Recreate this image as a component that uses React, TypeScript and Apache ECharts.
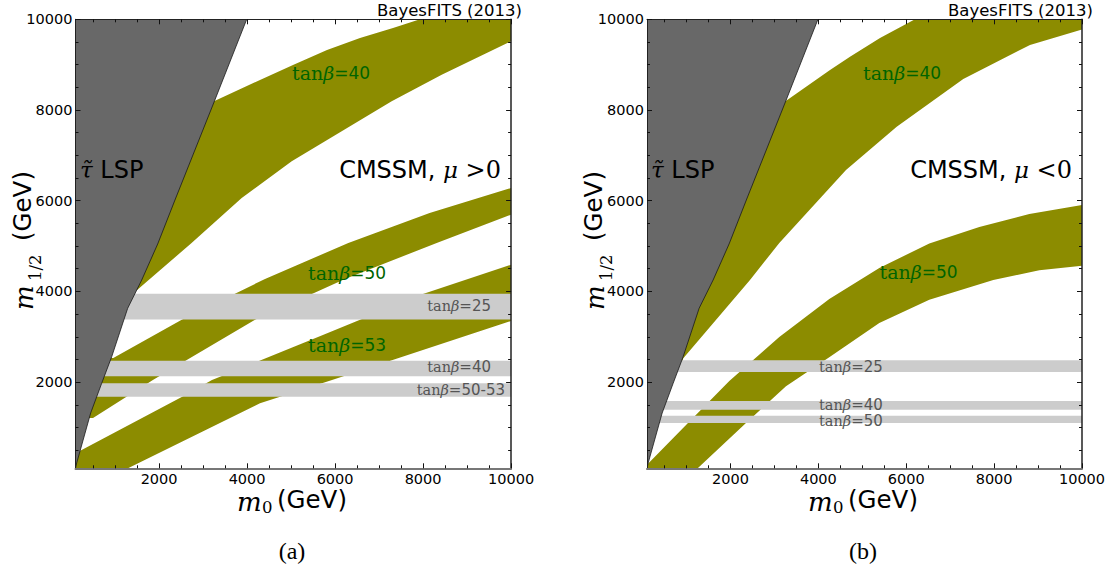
import React, { useEffect, useRef } from 'react';
import * as echarts from 'echarts';

// ---------- axes ----------
const X_MIN = 100;
const X_MAX = 10000;
const Y_MIN = 100;
const Y_MAX = 10000;
const majorTicks = [2000, 4000, 6000, 8000, 10000];
const minorTicks = [500, 1000, 1500, 2500, 3000, 3500, 4500, 5000, 5500, 6500, 7000, 7500, 8500, 9000, 9500];

// ---------- stau LSP boundary (m0, m1/2) ----------
const lspBoundary = [
  [100, 100], [127, 217], [445, 1319], [695, 1974], [923, 2561], [1286, 3628],
  [1605, 4252], [1968, 5046], [2361, 6016], [3259, 8199], [3991, 10000],
];

// ---------- panel (a): mu > 0 ----------
const a40Upper = [[3259, 8199], [4293, 8662], [5043, 8993], [5816, 9324], [6566, 9589], [7316, 9809], [7930, 10000]];
const a40Lower = [[1500, 4030], [2725, 5057], [3877, 6060], [5014, 6870], [6150, 7531], [7286, 8193], [8423, 8779], [10000, 9516]];
const a50Upper = [[959, 2532], [2514, 3377], [4407, 4274], [6300, 5068], [8148, 5729], [10000, 6281]];
const a50Lower = [[498, 1209], [1868, 2054], [4180, 3377], [6225, 4274], [8309, 5068], [10000, 5692]];
const a53Upper = [[100, 430], [2514, 1672], [3202, 2047], [5611, 2995], [7997, 3943], [10000, 4590]];
const a53Lower = [[1293, 100], [4293, 1533], [5930, 2047], [10000, 3348]];
const aStrips = [[3380, 3950], [2130, 2470], [1680, 1975]];
const aStripNames = ['25', '40', '50-53'];

// ---------- panel (b): mu < 0 ----------
const b40Upper = [[3259, 8199], [4265, 8883], [4720, 9176], [5403, 9588], [6199, 10000]];
const b40Lower = [[820, 2250], [926, 2526], [2444, 4252], [3111, 5068], [4629, 6678], [5783, 7633], [7298, 8684], [8816, 9434], [10000, 9776]];
const b50Upper = [[100, 179], [988, 1055], [1973, 2025], [3111, 2995], [4249, 3833], [5387, 4517], [6525, 5057], [7663, 5421], [8801, 5708], [10000, 5906]];
const b50Lower = [[1254, 100], [2353, 1099], [3263, 1908], [4265, 2561], [5387, 3304], [6525, 3818], [7981, 4252], [9028, 4466], [10000, 4567]];
const bStrips = [[2225, 2480], [1390, 1585], [1100, 1260]];
const bStripNames = ['25', '40', '50'];

const OLIVE = '#8c8c00';
const LSP_GRAY = '#686868';
const STRIP_GRAY = '#cccccc';
const GREEN = '#006400';
const LABEL_GRAY = '#555555';
const SANS = 'DejaVu Sans';
const SERIF = 'DejaVu Serif';

function bandPolygon(upper: number[][], lower: number[][]) {
  const pts: number[][] = [[X_MIN, upper[0][1]], ...upper];
  const lastU = upper[upper.length - 1];
  const lastL = lower[lower.length - 1];
  if (lastU[1] >= Y_MAX && lastL[0] >= X_MAX) pts.push([X_MAX, Y_MAX]);
  for (let i = lower.length - 1; i >= 0; i--) pts.push(lower[i]);
  pts.push([X_MIN, lower[0][1]]);
  return pts;
}

function polySeries(points: number[][], fill: string, axis: number, z: number) {
  return {
    type: 'custom', xAxisIndex: axis, yAxisIndex: axis, z, clip: true, silent: true,
    data: [[points[0][0], points[0][1]]],
    renderItem: (_p: any, api: any) => ({
      type: 'polygon',
      shape: { points: points.map((p) => api.coord(p)) },
      style: { fill, stroke: 'none' },
    }),
  };
}

function lineSeries(points: number[][], axis: number, z: number) {
  return {
    type: 'custom', xAxisIndex: axis, yAxisIndex: axis, z, clip: true, silent: true,
    data: [[points[0][0], points[0][1]]],
    renderItem: (_p: any, api: any) => ({
      type: 'polyline',
      shape: { points: points.map((p) => api.coord(p)) },
      style: { fill: 'none', stroke: '#1a1a1a', lineWidth: 0.8 },
    }),
  };
}

const majorTick = { show: true, inside: true, length: 5, customValues: majorTicks, lineStyle: { color: '#111', width: 1 } };
const minorTick = { show: true, inside: true, length: 3, customValues: minorTicks, lineStyle: { color: '#111', width: 1 } };
const tickLabel = {
  show: true, customValues: majorTicks, color: '#000', fontSize: 14.5, fontFamily: SANS,
  formatter: (v: number) => String(v),
};

function xAxes(gridIndex: number) {
  const base = { type: 'value', gridIndex, min: X_MIN, max: X_MAX, z: 10, silent: true, splitLine: { show: false } };
  return [
    { ...base, position: 'bottom', axisLine: { show: true, onZero: false, lineStyle: { color: '#777', width: 2 } }, axisTick: majorTick, axisLabel: { ...tickLabel, margin: 4, lineHeight: 13 } },
    { ...base, position: 'bottom', axisLine: { show: false, onZero: false }, axisTick: minorTick, axisLabel: { show: false } },
    { ...base, position: 'top', axisLine: { show: true, onZero: false, lineStyle: { color: '#222', width: 1 } }, axisTick: majorTick, axisLabel: { show: false } },
    { ...base, position: 'top', axisLine: { show: false, onZero: false }, axisTick: minorTick, axisLabel: { show: false } },
  ];
}

function yAxes(gridIndex: number) {
  const base = { type: 'value', gridIndex, min: Y_MIN, max: Y_MAX, z: 10, silent: true, splitLine: { show: false } };
  return [
    { ...base, position: 'left', axisLine: { show: true, onZero: false, lineStyle: { color: '#222', width: 1 } }, axisTick: majorTick, axisLabel: { ...tickLabel, margin: 3 } },
    { ...base, position: 'left', axisLine: { show: false, onZero: false }, axisTick: minorTick, axisLabel: { show: false } },
    { ...base, position: 'right', axisLine: { show: true, onZero: false, lineStyle: { color: '#222', width: 1.5 } }, axisTick: majorTick, axisLabel: { show: false } },
    { ...base, position: 'right', axisLine: { show: false, onZero: false }, axisTick: minorTick, axisLabel: { show: false } },
  ];
}

function txt(x: number, y: number, text: string, rich: any, align = 'left', rotation = 0) {
  return {
    type: 'text', x, y, rotation, z: 100, silent: true,
    style: { text, rich, textAlign: align, textVerticalAlign: 'middle' },
  };
}

const greenRich = {
  t: { fontFamily: SERIF, fontSize: 19, fill: GREEN },
  b: { fontFamily: SERIF, fontStyle: 'italic', fontSize: 19, fill: GREEN },
  n: { fontFamily: SANS, fontSize: 17, fill: GREEN },
};
const grayRich = {
  t: { fontFamily: SERIF, fontSize: 14.5, fill: LABEL_GRAY, lineHeight: 12 },
  b: { fontFamily: SERIF, fontStyle: 'italic', fontSize: 14.5, fill: LABEL_GRAY, lineHeight: 12 },
  n: { fontFamily: SANS, fontSize: 15, fill: LABEL_GRAY, lineHeight: 12 },
};
const mRich = { a: { fontFamily: SERIF, fontStyle: 'italic', fontSize: 26, fill: '#000', lineHeight: 18 } };
const subRich = { a: { fontFamily: SERIF, fontSize: 16.5, fill: '#000', lineHeight: 13 } };
const gevRich = { a: { fontFamily: SANS, fontSize: 24.5, fill: '#000', lineHeight: 21 } };
const modelRich = {
  s: { fontFamily: SANS, fontSize: 24, fill: '#000' },
  m: { fontFamily: SERIF, fontStyle: 'italic', fontSize: 23, fill: '#000' },
  r: { fontFamily: SERIF, fontSize: 24, fill: '#000' },
};
const lspRich = {
  t: { fontFamily: SERIF, fontStyle: 'italic', fontSize: 23, fill: '#000' },
  s: { fontFamily: SANS, fontSize: 24, fill: '#000' },
};
const bayesRich = { a: { fontFamily: SANS, fontSize: 16.5, fill: '#000' } };
const capRich = { a: { fontFamily: 'Liberation Serif', fontSize: 24, fill: '#000' } };

function axisTitles(dx: number) {
  const R = Math.PI / 2;
  return [
    // x title: m_0 (GeV)
    txt(237 + dx, 501.5, '{a|m}', mRich),
    txt(262 + dx, 507.5, '{a|0}', subRich),
    txt(277 + dx, 499.5, '{a|(GeV)}', gevRich),
    // y title: m_1/2 (GeV), reading upwards
    txt(24 + dx, 310, '{a|m}', mRich, 'left', R),
    txt(35 + dx, 281, '{a|1/2}', subRich, 'left', R),
    txt(22 + dx, 241, '{a|(GeV)}', gevRich, 'left', R),
  ];
}

function buildOption() {
  const series: any[] = [];
  const panels = [
    { axis: 0, bands: [[a40Upper, a40Lower], [a50Upper, a50Lower], [a53Upper, a53Lower]], strips: aStrips },
    { axis: 4, bands: [[b40Upper, b40Lower], [b50Upper, b50Lower]], strips: bStrips },
  ];
  const lspPolygon = [...lspBoundary, [X_MIN, Y_MAX]];
  panels.forEach((p) => {
    p.bands.forEach(([u, l]) => series.push(polySeries(bandPolygon(u, l), OLIVE, p.axis, 1)));
    p.strips.forEach(([lo, hi]) =>
      series.push(polySeries([[X_MIN, lo], [X_MAX, lo], [X_MAX, hi], [X_MIN, hi]], STRIP_GRAY, p.axis, 2)));
    series.push(polySeries(lspPolygon, LSP_GRAY, p.axis, 3));
    series.push(lineSeries(lspBoundary, p.axis, 4));
  });

  const tanText = (v: string) => `{t|tan}{b|β}{n|=${v}}`;
  const graphic = [
    // panel (a)
    txt(377, 10, '{a|BayesFITS (2013)}', bayesRich),
    txt(80, 170, '{t|τ̃}{s| LSP}', lspRich),
    txt(501, 170, '{s|CMSSM, }{m|μ}{r| >0}', modelRich, 'right'),
    txt(292, 72.5, tanText('40'), greenRich),
    txt(308, 272.5, tanText('50'), greenRich),
    txt(308, 345, tanText('53'), greenRich),
    txt(491, 306, tanText(aStripNames[0]), grayRich, 'right'),
    txt(491, 367, tanText(aStripNames[1]), grayRich, 'right'),
    txt(505, 389.5, tanText(aStripNames[2]), grayRich, 'right'),
    ...axisTitles(0),
    txt(292, 551, '{a|(a)}', capRich, 'center'),
    // panel (b)
    txt(948, 10, '{a|BayesFITS (2013)}', bayesRich),
    txt(651, 170, '{t|τ̃}{s| LSP}', lspRich),
    txt(1072, 170, '{s|CMSSM, }{m|μ}{r| <0}', modelRich, 'right'),
    txt(863, 72.5, tanText('40'), greenRich),
    txt(879.5, 271.5, tanText('50'), greenRich),
    txt(819, 367, tanText(bStripNames[0]), grayRich),
    txt(819, 404.5, tanText(bStripNames[1]), grayRich),
    txt(819, 420.5, tanText(bStripNames[2]), grayRich),
    ...axisTitles(571),
    txt(863, 551, '{a|(b)}', capRich, 'center'),
  ];

  return {
    animation: false,
    backgroundColor: '#ffffff',
    grid: [
      { left: 75.5, top: 19.3, width: 435.6, height: 449, containLabel: false, outerBoundsMode: 'none' },
      { left: 647, top: 19.3, width: 435, height: 449, containLabel: false, outerBoundsMode: 'none' },
    ],
    xAxis: [...xAxes(0), ...xAxes(1)],
    yAxis: [...yAxes(0), ...yAxes(1)],
    series,
    graphic,
  };
}

export default function App() {
  const ref = useRef<HTMLDivElement>(null);
  useEffect(() => {
    const chart = echarts.init(ref.current as HTMLDivElement, null, { renderer: 'svg' });
    chart.setOption(buildOption() as any);
    return () => chart.dispose();
  }, []);
  return (
    <div
      ref={ref}
      style={{ position: 'absolute', left: 0, top: 0, width: 1114, height: 575, background: '#fff' }}
    />
  );
}
